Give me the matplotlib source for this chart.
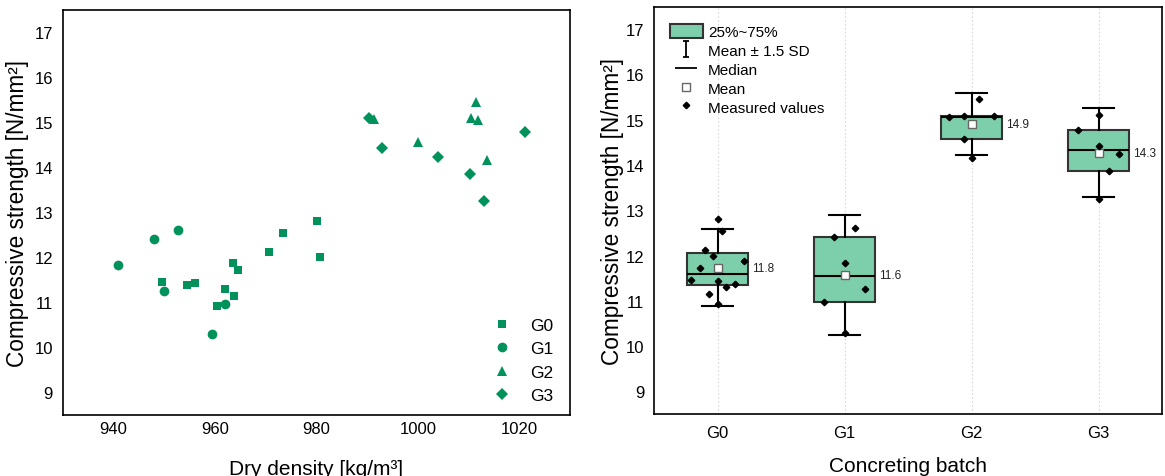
import numpy as np
import matplotlib
matplotlib.use("Agg")
import matplotlib.pyplot as plt
from matplotlib.path import Path
from matplotlib.lines import Line2D
import matplotlib.patches as mpatches

plt.rcParams['font.family'] = ['Liberation Sans', 'DejaVu Sans']

# ---------------- data ----------------
groups = ["G0", "G1", "G2", "G3"]

g0_density = [980.2, 973.4, 970.7, 980.7, 963.5, 964.6, 949.5, 956.1, 954.6, 962.0, 963.7, 960.5]
g0_strength = [12.80, 12.55, 12.12, 12.00, 11.88, 11.73, 11.46, 11.44, 11.38, 11.30, 11.15, 10.92]
g0_jitter = [0.0, 0.035, -0.10, -0.034, 0.21, -0.14, -0.21, 0.0, 0.14, 0.07, -0.07, 0.0]

g1_density = [952.7, 948.0, 940.9, 949.9, 962.0, 959.5]
g1_strength = [12.60, 12.40, 11.84, 11.25, 10.97, 10.30]
g1_jitter = [0.08, -0.08, 0.0, 0.16, -0.165, 0.0]

g2_density = [1011.4, 1010.5, 1011.8, 991.3, 1000.1, 1013.7]
g2_strength = [15.46, 15.09, 15.06, 15.08, 14.57, 14.16]
g2_jitter = [0.06, 0.18, -0.18, -0.06, -0.06, 0.0]

g3_density = [990.4, 993.0, 1003.9, 1010.2, 1013.0, 1021.2]
g3_strength = [15.10, 14.42, 14.24, 13.86, 13.25, 14.78]
g3_jitter = [0.0, 0.0, 0.16, 0.08, 0.0, -0.16]

mean_labels = ["11.8", "11.6", "14.9", "14.3"]

densities = [g0_density, g1_density, g2_density, g3_density]
strengths = [g0_strength, g1_strength, g2_strength, g3_strength]
jitters = [g0_jitter, g1_jitter, g2_jitter, g3_jitter]
markers = ["s", "o", "^", "D"]
msizes = [6.0, 7.0, 7.8, 5.8]

GREEN = "#00925A"
BOXFILL = "#7CCFAA"

# ---------------- figure ----------------
W, H = 1165, 477
fig = plt.figure(figsize=(W / 100, H / 100), dpi=100)

def frac(x0, y0, x1, y1):
    return [x0 / W, 1 - y1 / H, (x1 - x0) / W, (y1 - y0) / H]

ax1 = fig.add_axes(frac(62.7, 10.8, 570, 416))
ax2 = fig.add_axes(frac(654, 7.5, 1162, 415))

# ---------------- left scatter ----------------
for g, d, s, m, ms in zip(groups, densities, strengths, markers, msizes):
    ax1.plot(d, s, linestyle="none", marker=m, markersize=ms, color=GREEN,
             markeredgewidth=0, label=g)

ax1.set_xlim(930, 1030)
ax1.set_ylim(8.5, 17.5)
ax1.set_xticks([940, 960, 980, 1000, 1020])
ax1.set_yticks(range(9, 18))
ax1.tick_params(axis="both", length=0, labelsize=12)
ax1.tick_params(axis="y", pad=7)
ax1.tick_params(axis="x", pad=4)
ax1.set_xlabel("Dry density [kg/m³]", fontsize=15)
ax1.set_ylabel("Compressive strength [N/mm²]", fontsize=16.3)
ax1.yaxis.set_label_coords(-0.066, 0.5)
ax1.xaxis.set_label_coords(0.5, -0.108)
for sp in ax1.spines.values():
    sp.set_linewidth(1.2)
ax1.legend(loc="lower right", bbox_to_anchor=(1 - 17 / 507, 12 / 405),
           borderaxespad=0, borderpad=0, frameon=False, fontsize=12.5,
           handletextpad=0.6, labelspacing=0.47, numpoints=1)

# ---------------- right box plot ----------------
positions = np.arange(len(groups))
stats = []
for g, s in zip(groups, strengths):
    a = np.sort(np.asarray(s))
    n = len(a)
    lower = a[:(n + 1) // 2]
    upper = a[n // 2:]
    mean = a.mean()
    sd = a.std(ddof=1)
    stats.append(dict(label=g, med=np.median(a), q1=np.median(lower), q3=np.median(upper),
                      whislo=mean - 1.5 * sd, whishi=mean + 1.5 * sd, mean=mean, fliers=[]))

for p in positions:
    ax2.axvline(p, color="#D9D9D9", linestyle=(0, (1.5, 2)), linewidth=0.8, zorder=0)

ax2.bxp(stats, positions=positions, widths=0.48, capwidths=0.24, patch_artist=True,
        showmeans=True, showfliers=False,
        boxprops=dict(facecolor=BOXFILL, edgecolor="#333333", linewidth=1.5),
        medianprops=dict(color="black", linewidth=1.5),
        whiskerprops=dict(color="black", linewidth=1.5),
        capprops=dict(color="black", linewidth=1.5),
        meanprops=dict(marker="s", markerfacecolor="white", markeredgecolor="#666666",
                       markersize=5.5, markeredgewidth=1.0),
        zorder=2)

for p, s, j in zip(positions, strengths, jitters):
    ax2.plot(p + np.asarray(j), s, linestyle="none", marker="D", markersize=3.3,
             color="black", zorder=4)

for p, st, lab in zip(positions, stats, mean_labels):
    ax2.annotate(lab, (p + 0.24, st["mean"]), xytext=(3, 0), textcoords="offset points",
                 ha="left", va="center", fontsize=8.5, color="#222222")

ax2.set_xlim(-0.5, 3.5)
ax2.set_ylim(8.5, 17.5)
ax2.set_xticks(positions)
ax2.set_xticklabels(groups)
ax2.set_yticks(range(9, 18))
ax2.tick_params(axis="both", length=0, labelsize=12)
ax2.tick_params(axis="y", pad=7)
ax2.tick_params(axis="x", pad=8)
ax2.set_xlabel("Concreting batch", fontsize=15)
ax2.set_ylabel("Compressive strength [N/mm²]", fontsize=16.3)
ax2.yaxis.set_label_coords(-0.06, 0.5)
ax2.xaxis.set_label_coords(0.5, -0.103)
for sp in ax2.spines.values():
    sp.set_linewidth(1.2)

# legend
ibar = Path([(-0.35, 1), (0.35, 1), (0, 1), (0, -1), (-0.35, -1), (0.35, -1)],
            [Path.MOVETO, Path.LINETO, Path.MOVETO, Path.LINETO, Path.MOVETO, Path.LINETO])
handles = [
    mpatches.Patch(facecolor=BOXFILL, edgecolor="#333333", linewidth=1.5),
    Line2D([], [], linestyle="none", marker=ibar, markersize=12, markeredgecolor="black",
           markerfacecolor="none", markeredgewidth=1.3),
    Line2D([], [], linestyle="none", marker="_", markersize=15.6, markeredgecolor="black",
           markeredgewidth=1.3),
    Line2D([], [], linestyle="none", marker="s", markersize=5.5, markerfacecolor="white",
           markeredgecolor="#666666", markeredgewidth=1.0),
    Line2D([], [], linestyle="none", marker="D", markersize=3.3, color="black"),
]
labels = ["25%~75%", "Mean ± 1.5 SD", "Median", "Mean", "Measured values"]
ax2.legend(handles, labels, loc="upper left", bbox_to_anchor=(16 / 508, 1 - 17.5 / 407.5),
           borderaxespad=0, borderpad=0, frameon=False, fontsize=11,
           handlelength=2.15, handleheight=1.05, handletextpad=0.35, labelspacing=0.23,
           numpoints=1)

fig.savefig("out.png", dpi=100)
